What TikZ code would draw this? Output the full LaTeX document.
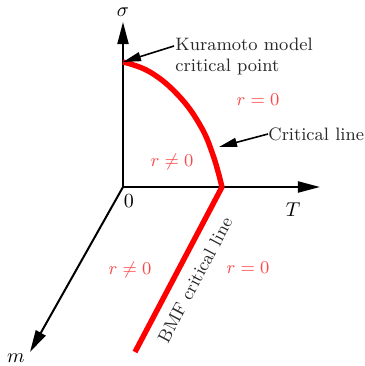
\documentclass[tikz,border=0pt]{standalone}
\usetikzlibrary{arrows.meta}
\definecolor{lblred}{RGB}{255,70,70}
\definecolor{txtgray}{RGB}{40,40,40}
\begin{document}
\begin{tikzpicture}[x=0.5pt,y=-0.5pt,
  axis/.style={line width=1pt,-{Triangle[length=11pt,width=5.5pt]}},
  crit/.style={line width=2.7pt,red,line join=round},
  ptr/.style={line width=0.8pt,black,-{Triangle[length=9pt,width=4.5pt]}},
  note/.style={text=txtgray,font=\fontsize{9}{10.5}\selectfont,inner sep=0pt},
  reg/.style={text=lblred,font=\fontsize{9}{10.5}\selectfont,inner sep=0pt},
  axl/.style={font=\fontsize{10}{12}\selectfont,inner sep=0pt}]
\useasboundingbox (0,0) rectangle (365,366);
\coordinate (O) at (123,187);
\coordinate (Sig) at (123,22);
\coordinate (Tt) at (320,187);
\coordinate (Mm) at (30,352);
\draw[axis] (O) -- (Sig);
\draw[axis] (O) -- (Tt);
\draw[axis] (O) -- (Mm);
\node[axl] (sl) at (123,12) {$\sigma$};
\node[axl] (tl) at (293,210) {$T$};
\node[axl] (ml) at (16,358) {$m$};
\node[axl] (zl) at (129,201) {$0$};
\coordinate (KP) at (123,62);
\coordinate (BP) at (222,187);
\coordinate (BE) at (135,352);
\draw[crit] plot[smooth,tension=0.7] coordinates {(123,62) (150,72) (178,95) (200,125) (213,155) (222,187)} -- (BE);
\node[note,anchor=west,align=left] (kur) at (175,56) {Kuramoto model\\critical point};
\draw[ptr] (174,46) -- (KP);
\node[note,anchor=west] (cl) at (268,134) {Critical line};
\coordinate (CLp) at (219,147);
\draw[ptr] (cl.west) -- (CLp);
\node[reg] (r1) at (258,100) {$r=0$};
\node[reg] (r2) at (172,162) {$r\neq0$};
\node[reg] (r3) at (130,270) {$r\neq0$};
\node[reg] (r4) at (248,268) {$r=0$};
\node[note,rotate=62] (bmf) at (195,280) {BMF critical line};
\end{tikzpicture}
\end{document}
